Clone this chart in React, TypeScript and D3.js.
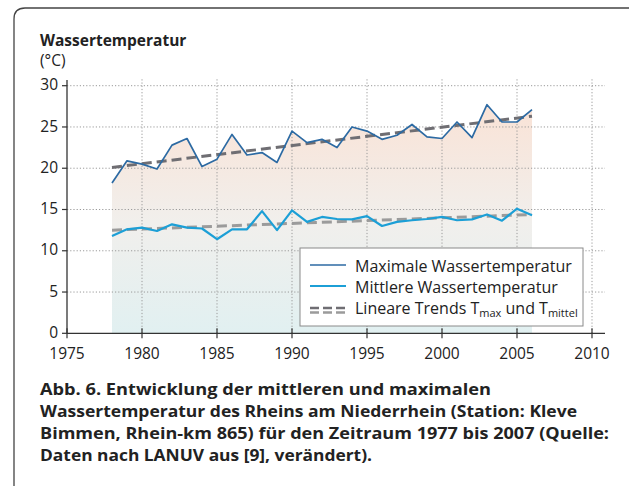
import React from 'react';
import * as d3 from 'd3';

// values
const years = [
  1978, 1979, 1980, 1981, 1982, 1983, 1984, 1985, 1986, 1987, 1988, 1989, 1990, 1991, 1992,
  1993, 1994, 1995, 1996, 1997, 1998, 1999, 2000, 2001, 2002, 2003, 2004, 2005, 2006,
];
const maxTemp = [
  18.2, 20.9, 20.5, 19.9, 22.8, 23.6, 20.2, 21.1, 24.1, 21.6, 21.9, 20.7, 24.5, 23.1, 23.5,
  22.5, 25.0, 24.5, 23.5, 24.0, 25.3, 23.8, 23.6, 25.6, 23.7, 27.7, 25.6, 25.6, 27.1,
];
const meanTemp = [
  11.8, 12.6, 12.8, 12.4, 13.2, 12.8, 12.7, 11.4, 12.6, 12.6, 14.8, 12.5, 14.9, 13.5, 14.1,
  13.85, 13.8, 14.2, 13.0, 13.5, 13.7, 13.85, 14.1, 13.7, 13.8, 14.4, 13.65, 15.1, 14.3,
];
const trendYears = [1978, 2006];
const trendMax = [20.1, 26.3];
const trendMean = [12.5, 14.4];

const xTicks = [1975, 1980, 1985, 1990, 1995, 2000, 2005, 2010];
const yTicks = [0, 5, 10, 15, 20, 25, 30];

const legendLabels = ['Maximale Wassertemperatur', 'Mittlere Wassertemperatur'];
const captionLines = [
  'Abb. 6. Entwicklung der mittleren und maximalen',
  'Wassertemperatur des Rheins am Niederrhein (Station: Kleve',
  'Bimmen, Rhein-km 865) für den Zeitraum 1977 bis 2007 (Quelle:',
  'Daten nach LANUV aus [9], verändert).',
];
const captionWidths = [451, 537, 569, 332];

const W = 629;
const H = 486;
const FONT = '"Open Sans", "Noto Sans", sans-serif';
const MAX_COLOR = '#2c6aa3';
const MEAN_COLOR = '#1c9fd6';

const x = d3.scaleLinear().domain([1975, 2010]).range([67, 592]);
const y = d3.scaleLinear().domain([0, 30]).range([333.3, 85.7]);

export default function App() {
  const line = d3
    .line<number>()
    .x((d, i) => x(years[i]))
    .y((d) => y(d));
  const trendLine = d3
    .line<number>()
    .x((d, i) => x(trendYears[i]))
    .y((d) => y(d));
  const area = d3
    .area<number>()
    .x((d, i) => x(years[i]))
    .y0(y(0))
    .y1((d) => y(d));

  const gridRight = 605;
  const gridTop = 78;

  return (
    <svg
      width={W}
      height={H}
      viewBox={`0 0 ${W} ${H}`}
      style={{ position: 'absolute', left: 0, top: 0, background: '#fff' }}
      fontFamily={FONT}
    >
      <defs>
        <linearGradient id="fillGrad" gradientUnits="userSpaceOnUse" x1={0} x2={0} y1={y(27)} y2={y(0)}>
          <stop offset="0%" stopColor="#f9e3d7" />
          <stop offset="50%" stopColor="#f1efec" />
          <stop offset="100%" stopColor="#e1f0f1" />
        </linearGradient>
      </defs>

      {/* frame */}
      <path d={`M14,${H} L14,19 Q14,8 25,8 L${W},8`} fill="none" stroke="#444" strokeWidth={1.3} />

      {/* title */}
      <text x={40} y={46} fontSize={15.5} fontWeight="bold" fill="#222">Wassertemperatur</text>
      <text x={40} y={66} fontSize={15.5} fill="#222">(°C)</text>

      {/* filled area */}
      <path d={area(maxTemp)} fill="url(#fillGrad)" />

      {/* grid */}
      {yTicks.slice(1).map((t) => (
        <line key={`gy-${t}`} x1={x(1975)} x2={gridRight} y1={y(t)} y2={y(t)}
          stroke="#9a9a9a" strokeWidth={1} strokeDasharray="1.2 2" />
      ))}
      {xTicks.slice(1).map((t) => (
        <line key={`gx-${t}`} x1={x(t)} x2={x(t)} y1={y(0)} y2={gridTop}
          stroke="#9a9a9a" strokeWidth={1} strokeDasharray="1.2 2" />
      ))}

      {/* trends */}
      <path d={trendLine(trendMean)} fill="none" stroke="#9b9b9b" strokeWidth={3} strokeDasharray="10 5" />
      <path d={trendLine(trendMax)} fill="none" stroke="#6f6e73" strokeWidth={3} strokeDasharray="10 5" />

      {/* series */}
      <path d={line(meanTemp)} fill="none" stroke={MEAN_COLOR} strokeWidth={2.2} strokeLinejoin="round" />
      <path d={line(maxTemp)} fill="none" stroke={MAX_COLOR} strokeWidth={1.7} strokeLinejoin="round" />

      {/* axes */}
      <line x1={x(1975)} x2={x(1975)} y1={y(0)} y2={80} stroke="#333" strokeWidth={1.3} />
      <line x1={x(1975)} x2={gridRight} y1={y(0)} y2={y(0)} stroke="#333" strokeWidth={1.3} />
      {yTicks.map((t) => (
        <g key={`ty-${t}`}>
          <line x1={x(1975) - 5} x2={x(1975)} y1={y(t)} y2={y(t)} stroke="#333" strokeWidth={1.2} />
          <text x={58} y={y(t)} dy="0.3em" textAnchor="end" fontSize={15.5} fill="#222">{t}</text>
        </g>
      ))}
      {xTicks.map((t) => (
        <g key={`tx-${t}`}>
          <line x1={x(t)} x2={x(t)} y1={y(0) - 5} y2={y(0) + 5} stroke="#333" strokeWidth={1.2} />
          <text x={x(t)} y={359} textAnchor="middle" fontSize={15.5} fill="#222">{t}</text>
        </g>
      ))}

      {/* legend */}
      <rect x={300} y={248} width={283} height={78} fill="#fff" stroke="#8a8a8a" strokeWidth={1} />
      <line x1={310} x2={346} y1={265} y2={265} stroke={MAX_COLOR} strokeWidth={1.5} />
      <line x1={310} x2={346} y1={286} y2={286} stroke={MEAN_COLOR} strokeWidth={2.2} />
      <line x1={310} x2={345} y1={308} y2={308} stroke="#6f6e73" strokeWidth={2.5} strokeDasharray="9 4" />
      <line x1={310} x2={345} y1={312.5} y2={312.5} stroke="#9b9b9b" strokeWidth={2.5} strokeDasharray="9 4" />
      {legendLabels.map((l, i) => (
        <text key={l} x={355} y={272 + i * 21} fontSize={16} fill="#222">{l}</text>
      ))}
      <text x={355} y={314} fontSize={16} fill="#222">
        Lineare Trends T<tspan fontSize={11} dy={3}>max</tspan>
        <tspan dy={-3}> und T</tspan>
        <tspan fontSize={11} dy={3}>mittel</tspan>
      </text>

      {/* caption */}
      {captionLines.map((l, i) => (
        <text key={i} x={40} y={395 + i * 22} fontSize={16} fontWeight="bold" fill="#222"
          textLength={captionWidths[i]} lengthAdjust="spacingAndGlyphs">{l}</text>
      ))}
    </svg>
  );
}
